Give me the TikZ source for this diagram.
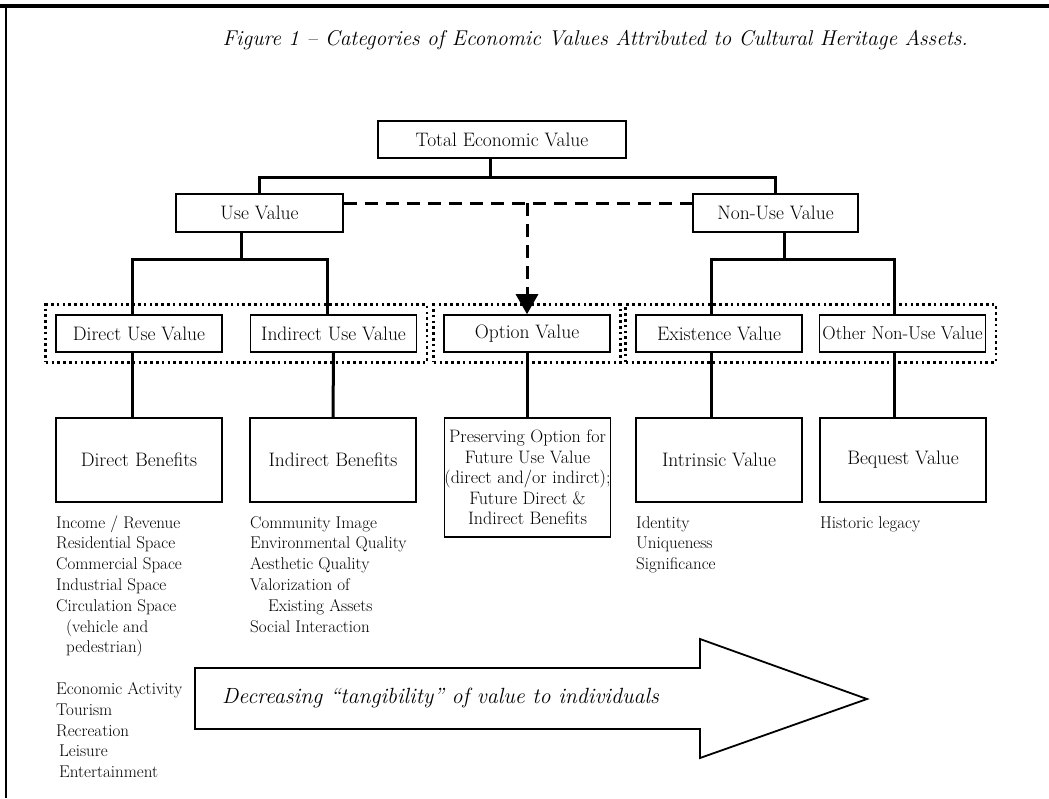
\documentclass[tikz,border=0pt]{standalone}
\usetikzlibrary{arrows.meta,fit}
\begin{document}
\begin{tikzpicture}[x=1pt,y=-1pt,
  box/.style={draw, line width=1.6pt, inner sep=0pt, font=\fontsize{19.5}{22}\selectfont, minimum height=37pt, minimum width=166pt, align=center},
  bigbox/.style={box, minimum height=84pt},
  conn/.style={line width=3pt},
  dotgrp/.style={draw, line width=2.6pt, dash pattern=on 2.6pt off 3.2pt, inner sep=9.5pt},
  dashln/.style={line width=3pt, dash pattern=on 13pt off 8pt},
  lst/.style={anchor=base west, inner sep=0pt, font=\fontsize{17}{20.8}\selectfont}]

\useasboundingbox (0,0) rectangle (1049,798);
% frame
\draw[line width=3.5pt] (0,6) -- (1049,6);
\draw[line width=2.5pt] (6,4.5) -- (6,798);

% title
\node[anchor=east, inner sep=0pt, font=\fontsize{21.4}{24}\selectfont\itshape] (title) at (968,40) {Figure 1 – Categories of Economic Values Attributed to Cultural Heritage Assets.};

% level 1 and 2
\node[box, minimum width=248pt] (tev) at (502,139.5) {Total Economic Value};
\node[box, minimum width=167pt, minimum height=38pt] (uv) at (259.5,213) {Use Value};
\node[box, minimum width=165pt, minimum height=38pt] (nuv) at (775.5,213) {Non-Use Value};

% level 3
\node[box] (duv) at (139,333.5) {Direct Use Value};
\node[box] (iuv) at (333.5,333.5) {Indirect Use Value};
\node[box] (ov) at (527,333.5) {Option Value};
\node[box] (ev) at (719,333.5) {Existence Value};
\node[box, font=\fontsize{18.6}{20}\selectfont] (onuv) at (902.5,333.5) {Other Non-Use Value};

% dotted groups
\node[dotgrp, fit=(duv)(iuv)] (g1) {};
\node[dotgrp, fit=(ov)] (g2) {};
\node[dotgrp, fit=(ev)(onuv)] (g3) {};

% level 4
\node[bigbox] (db) at (139,460) {Direct Benefits};
\node[bigbox] (ib) at (333,460) {Indirect Benefits};
\node[box, minimum height=119pt, minimum width=165pt, font=\fontsize{18}{20.5}\selectfont] (po) at (527.5,477.5) {Preserving Option for\\Future Use Value\\(direct and/or indirct);\\Future Direct \&\\Indirect Benefits};
\node[bigbox] (iv) at (719,460) {Intrinsic Value};
\node[bigbox] (bv) at (903,460) {Bequest Value};

% connectors
\coordinate (j1) at (490,177);
\draw[conn] (tev.south -| j1) -- (j1);
\draw[conn] (uv.north) |- (j1) -| (nuv.north);

\coordinate (j2) at (241,259);
\draw[conn] (uv.south -| j2) -- (j2);
\draw[conn] ([xshift=-7pt]duv.north) |- (j2) -| ([xshift=-6pt]iuv.north);

\coordinate (j3) at (784,259);
\draw[conn] (nuv.south -| j3) -- (j3);
\draw[conn] ([xshift=-8pt]ev.north) |- (j3) -| ([xshift=-8.5pt]onuv.north);

\draw[conn] ([xshift=-7pt]duv.south) -- ([xshift=-7pt]db.north);
\draw[conn] (iuv.south) -- (ib.north);
\draw[conn] (ov.south) -- (po.north -| ov.south);
\draw[conn] ([xshift=-8pt]ev.south) -- ([xshift=-8pt]iv.north);
\draw[conn] ([xshift=-8.5pt]onuv.south) -- ([xshift=-9pt]bv.north);

% dashed option link
\coordinate (dj) at (527,203);
\draw[dashln] ([yshift=10pt]uv.east) -- ([yshift=10pt]nuv.west);
\draw[dashln, -{Triangle[length=20pt,width=22pt]}] (dj) -- (ov.north);

% lists
\node[lst] (d1) at (56,528) {Income / Revenue};
\node[lst] (d2) at (56,548.8) {Residential Space};
\node[lst] (d3) at (56,569.6) {Commercial Space};
\node[lst] (d4) at (56,590.4) {Industrial Space};
\node[lst] (d5) at (56,611.2) {Circulation Space};
\node[lst] (d6) at (66,632) {(vehicle and};
\node[lst] (d7) at (66,652.8) {pedestrian)};
\node[lst] (d8) at (56,694.4) {Economic Activity};
\node[lst] (d9) at (56,715.2) {Tourism};
\node[lst] (d10) at (56,736) {Recreation};
\node[lst] (d11) at (59,756.8) {Leisure};
\node[lst] (d12) at (59,777.6) {Entertainment};

\node[lst] (i1) at (250,528) {Community Image};
\node[lst] (i2) at (250,548.8) {Environmental Quality};
\node[lst] (i3) at (250,569.6) {Aesthetic Quality};
\node[lst] (i4) at (250,590.4) {Valorization of};
\node[lst] (i5) at (268,611.2) {Existing Assets};
\node[lst] (i6) at (250,632) {Social Interaction};

\node[lst] (v1) at (636,528) {Identity};
\node[lst] (v2) at (636,548.8) {Uniqueness};
\node[lst] (v3) at (636,569.6) {Significance};

\node[lst] (b1) at (820,528) {Historic legacy};

% big arrow
\draw[line width=1.8pt, line join=miter] (195,668) -- (700,668) -- (700,639) -- (867,699) -- (700,758) -- (700,729) -- (195,729) -- cycle;
\node[anchor=west, inner sep=0pt, font=\fontsize{22}{26}\selectfont\itshape] (arrtext) at (222,698) {Decreasing “tangibility” of value to individuals};
\end{tikzpicture}
\end{document}
